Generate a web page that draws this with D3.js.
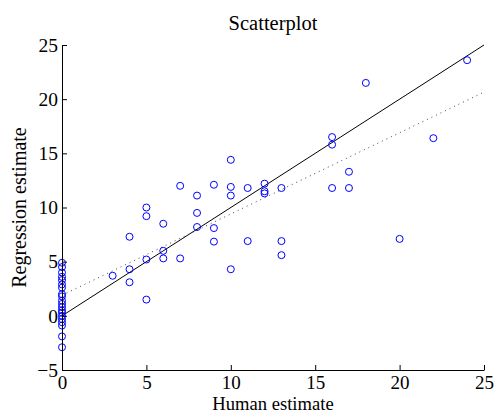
<!DOCTYPE html>
<html>
<head>
<meta charset="utf-8">
<script src="https://cdn.jsdelivr.net/npm/d3@7"></script>
<style>
  body { margin: 0; background: #fff; }
  text { font-family: "Liberation Serif", "Times New Roman", serif; }
</style>
</head>
<body>
<svg id="chart" width="496" height="414"></svg>
<script>
// human estimates (x) and regression estimates (y)
const humanEst = [
  0, 0, 0, 0, 0, 0, 0, 0, 0, 0, 0, 0, 0, 0, 0, 0, 0, 0, 0, 0,
  3, 4, 4, 4, 5, 5, 5, 5, 6, 6, 6, 7, 7, 8, 8, 8,
  9, 9, 9, 10, 10, 10, 10, 11, 11, 12, 12, 12, 13, 13, 13,
  16, 16, 16, 17, 17, 18, 20, 22, 24
];
const regressionEst = [
  4.9, 4.5, 4.0, 3.6, 3.3, 2.9, 2.6, 2.0, 1.8, 1.4, 1.1, 0.8, 0.5, 0.3, 0.0, -0.3, -0.6, -0.9, -1.9, -2.9,
  3.7, 7.3, 4.3, 3.1, 10.0, 9.2, 5.2, 1.5, 8.5, 6.0, 5.3, 5.3, 12.0, 11.1, 9.5, 8.2,
  12.1, 8.1, 6.85, 14.4, 11.9, 11.1, 4.3, 11.8, 6.9, 12.2, 11.5, 11.3, 11.8, 6.9, 5.6,
  16.5, 15.8, 11.8, 13.3, 11.8, 21.5, 7.1, 16.4, 23.6
];
const xTicks = [0, 5, 10, 15, 20, 25];
const yTicks = [-5, 0, 5, 10, 15, 20, 25];
// reference line y = x and fitted line
const lineX = [0, 25];
const fitIntercept = 1.9;
const fitSlope = 0.75;

const svg = d3.select("#chart");
const margin = { top: 45, right: 12, bottom: 44, left: 62 };
const width = 496 - margin.left - margin.right;
const height = 414 - margin.top - margin.bottom;

const x = d3.scaleLinear().domain([0, 25]).range([0, width]);
const y = d3.scaleLinear().domain([-5, 25]).range([height, 0]);

const g = svg.append("g").attr("transform", `translate(${margin.left},${margin.top})`);

// lines
const line = d3.line().x(d => x(d[0])).y(d => y(d[1]));
g.append("path")
  .attr("d", line(lineX.map(v => [v, v])))
  .attr("fill", "none")
  .attr("stroke", "#000")
  .attr("stroke-width", 1);
g.append("path")
  .attr("d", line(lineX.map(v => [v, fitIntercept + fitSlope * v])))
  .attr("fill", "none")
  .attr("stroke", "#444")
  .attr("stroke-width", 1)
  .attr("stroke-dasharray", "1,4");

// points
g.append("g")
  .selectAll("circle")
  .data(humanEst.map((h, i) => [h, regressionEst[i]]))
  .enter()
  .append("circle")
  .attr("cx", d => x(d[0]))
  .attr("cy", d => y(d[1]))
  .attr("r", 3.5)
  .attr("fill", "none")
  .attr("stroke", "#0000ff")
  .attr("stroke-width", 1);

// axes, ticks inward like matlab
const xAxis = g.append("g")
  .attr("transform", `translate(0,${height})`)
  .call(d3.axisBottom(x).tickValues(xTicks).tickSize(-5).tickPadding(5.5).tickSizeOuter(0));
const yAxis = g.append("g")
  .call(d3.axisLeft(y).tickValues(yTicks).tickSize(-5).tickPadding(4).tickSizeOuter(0));

[xAxis, yAxis].forEach(a => {
  a.select(".domain").attr("stroke", "#000");
  a.selectAll(".tick line").attr("stroke", "#000");
  a.selectAll(".tick text")
    .attr("fill", "#000")
    .style("font-family", '"Liberation Serif", serif')
    .style("font-size", "19.5px");
});
xAxis.selectAll(".tick text").style("font-size", "19px");

svg.append("text")
  .attr("x", margin.left + width / 2)
  .attr("y", 30)
  .attr("text-anchor", "middle")
  .style("font-size", "20.5px")
  .text("Scatterplot");

svg.append("text")
  .attr("x", margin.left + width / 2)
  .attr("y", 409.8)
  .attr("text-anchor", "middle")
  .style("font-size", "18.6px")
  .text("Human estimate");

svg.append("text")
  .attr("transform", `translate(26,${margin.top + height / 2}) rotate(-90)`)
  .attr("text-anchor", "middle")
  .style("font-size", "20px")
  .text("Regression estimate");
</script>
</body>
</html>
